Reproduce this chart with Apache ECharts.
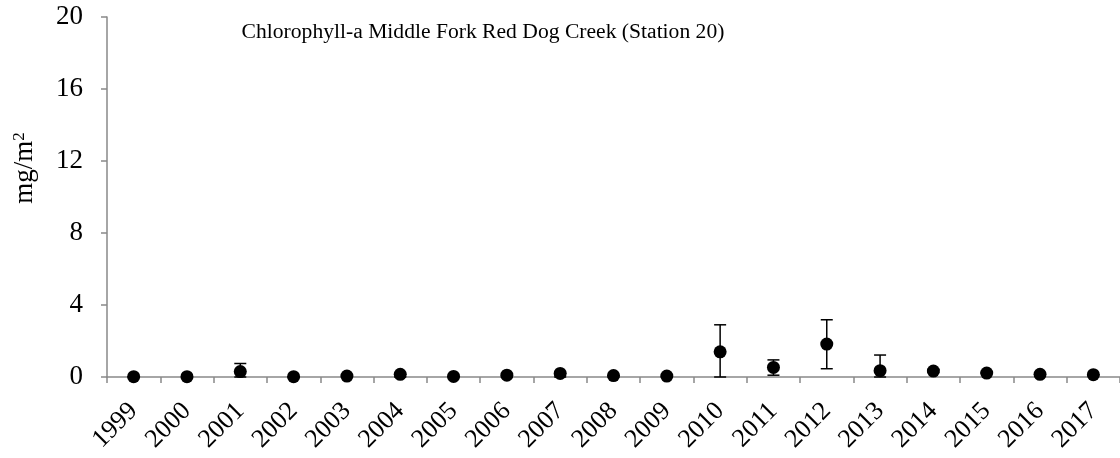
<!DOCTYPE html>
<html>
<head>
<meta charset="utf-8">
<script src="https://cdn.jsdelivr.net/npm/echarts@6/dist/echarts.min.js"></script>
<style>
  html, body { margin: 0; padding: 0; background: #fff; }
  #chart { width: 1120px; height: 458px; }
</style>
</head>
<body>
<div id="chart"></div>
<script>
// data
var years = ['1999', '2000', '2001', '2002', '2003', '2004', '2005', '2006', '2007', '2008',
             '2009', '2010', '2011', '2012', '2013', '2014', '2015', '2016', '2017'];
var meanVals = [0.02, 0.02, 0.3, 0.02, 0.05, 0.15, 0.03, 0.1, 0.2, 0.08,
                0.05, 1.4, 0.53, 1.83, 0.35, 0.33, 0.22, 0.15, 0.13];
var errLow = [0, 0, 0, 0, 0, 0, 0, 0, 0, 0,
              0, 0, 0.1, 0.46, 0, 0.25, 0.22, 0.15, 0.13];
var errHigh = [0.02, 0.02, 0.75, 0.02, 0.05, 0.15, 0.03, 0.1, 0.2, 0.08,
               0.05, 2.9, 0.95, 3.18, 1.22, 0.42, 0.22, 0.15, 0.13];
var yTicks = [0, 4, 8, 12, 16, 20];

var chart = echarts.init(document.getElementById('chart'));
var axisGray = '#898989';
var font = '"Liberation Serif", "Times New Roman", serif';

var errData = years.map(function (y, i) {
    return [i, errLow[i], errHigh[i]];
});

var option = {
    animation: false,
    backgroundColor: '#fff',
    textStyle: { fontFamily: font },
    title: {
        text: 'Chlorophyll-a Middle Fork Red Dog Creek (Station 20)',
        left: 478,
        top: 16,
        textAlign: 'center',
        textStyle: { fontFamily: font, fontSize: 21.6, fontWeight: 'normal', color: '#000' }
    },
    graphic: [{
        type: 'text',
        x: 25,
        y: 168,
        rotation: Math.PI / 2,
        style: {
            text: '{b|mg/m}{s|2}',
            rich: {
                b: { fontFamily: font, fontSize: 27, fill: '#000' },
                s: { fontFamily: font, fontSize: 17, fill: '#000', verticalAlign: 'top', padding: [0, 0, 10, 0] }
            },
            fill: '#000',
            align: 'center',
            verticalAlign: 'middle'
        }
    }],
    grid: { left: 107, right: -4, top: 17, bottom: 81, containLabel: false },
    xAxis: {
        type: 'category',
        data: years,
        boundaryGap: true,
        axisLine: { lineStyle: { color: axisGray, width: 1.5 } },
        axisTick: { show: true, length: 6, alignWithLabel: false, lineStyle: { color: axisGray, width: 1.5 } },
        axisLabel: {
            rotate: 45,
            interval: 0,
            margin: 30,
            color: '#000',
            fontSize: 26,
            fontFamily: font
        },
        splitLine: { show: false }
    },
    yAxis: {
        type: 'value',
        min: 0,
        max: yTicks[yTicks.length - 1],
        interval: 4,
        axisLine: { show: true, lineStyle: { color: axisGray, width: 1.5 } },
        axisTick: { show: true, length: 6, lineStyle: { color: axisGray, width: 1.5 } },
        axisLabel: { color: '#000', fontSize: 27, fontFamily: font, margin: 24, padding: [6, 0, 0, 0] },
        splitLine: { show: false }
    },
    series: [
        {
            type: 'custom',
            data: errData,
            z: 3,
            renderItem: function (params, api) {
                var x = api.value(0);
                var lo = api.coord([x, api.value(1)]);
                var hi = api.coord([x, api.value(2)]);
                var cap = 6;
                var st = { stroke: '#000', lineWidth: 1.5 };
                return {
                    type: 'group',
                    children: [
                        { type: 'line', shape: { x1: lo[0], y1: lo[1], x2: hi[0], y2: hi[1] }, style: st },
                        { type: 'line', shape: { x1: hi[0] - cap, y1: hi[1], x2: hi[0] + cap, y2: hi[1] }, style: st },
                        { type: 'line', shape: { x1: lo[0] - cap, y1: lo[1], x2: lo[0] + cap, y2: lo[1] }, style: st }
                    ]
                };
            }
        },
        {
            type: 'scatter',
            data: meanVals,
            symbol: 'circle',
            symbolSize: 13,
            z: 4,
            itemStyle: { color: '#000', opacity: 1 }
        }
    ]
};

chart.setOption(option);
</script>
</body>
</html>
